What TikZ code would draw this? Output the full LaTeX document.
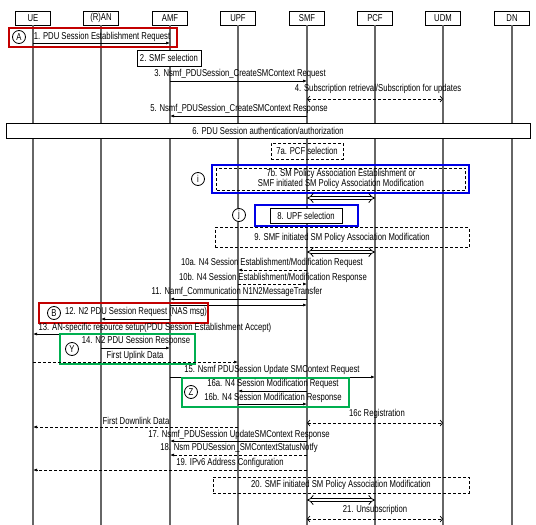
\documentclass[tikz,border=0pt]{standalone}
\usepackage{fontspec}
\setmainfont[FakeStretch=0.77]{Liberation Sans}
\usetikzlibrary{arrows.meta}
\definecolor{rbox}{RGB}{195,0,0}
\definecolor{bbox}{RGB}{0,0,230}
\definecolor{gbox}{RGB}{0,175,80}
\begin{document}
\begin{tikzpicture}[x=1pt,y=-1pt,
 every node/.style={font=\fontsize{10}{11}\selectfont, inner sep=0pt},
 head/.style={draw, minimum width=35pt, minimum height=14pt, fill=white, line width=0.8pt},
 life/.style={draw=black!60, line width=1.1pt},
 msg/.style={line width=0.7pt, -{Latex[length=4pt,width=3pt]}},
 dmsg/.style={msg, dash pattern=on 3pt off 2pt},
 biopen/.style={line width=0.7pt, dash pattern=on 3pt off 2pt, {Straight Barb[length=2.5pt,width=6pt]}-{Straight Barb[length=2.5pt,width=6pt]}},
 dbl/.style={double, double distance=2.6pt, line width=0.8pt, {Implies}-{Implies}},
 note/.style={draw, line width=0.7pt, fill=white},
 dnote/.style={draw, line width=0.7pt, dash pattern=on 3pt off 2pt},
 ring/.style={draw, circle, line width=0.8pt, minimum size=13pt, fill=white},
 hired/.style={draw=rbox, line width=2.5pt},
 hiblue/.style={draw=bbox, line width=2.5pt},
 higreen/.style={draw=gbox, line width=2.5pt}
]
\useasboundingbox (0,0) rectangle (536,525);
% headers
\node[head] (ue)  at (33,18)  {UE};
\node[head] (ran) at (101,18) {(R)AN};
\node[head] (amf) at (170,18) {AMF};
\node[head] (upf) at (238,18) {UPF};
\node[head] (smf) at (307,18) {SMF};
\node[head] (pcf) at (375,18) {PCF};
\node[head] (udm) at (443,18) {UDM};
\node[head] (dn)  at (512,18) {DN};
\foreach \n in {ue,ran,amf,upf,smf,pcf,udm,dn}{
  \coordinate (\n-end) at (\n |- 0,525);
  \draw[life] (\n.south) -- (\n-end);
}
% 1
\draw[hired] (9,28) rectangle (177,47);
\node[ring] (cA) at (19,37) {A};
\node (t1) at (102,36.5) {1. PDU Session Establishment Request};
\draw[msg] (ue |- 0,43) -- (amf |- 0,43);
% 2
\node[note, minimum width=64pt, minimum height=16pt] (s2) at (169,58) {2. SMF selection};
% 3
\node (t3) at (240,74) {3. Nsmf\_PDUSession\_CreateSMContext Request};
\draw[msg] (amf |- 0,81) -- (smf |- 0,81);
% 4
\node (t4) at (378,89) {4. Subscription retrieval/Subscription for updates};
\draw[biopen] (smf |- 0,99) -- (udm |- 0,99);
% 5
\node (t5) at (239,109) {5. Nsmf\_PDUSession\_CreateSMContext Response};
\draw[msg] (smf |- 0,116) -- (amf |- 0,116);
% 6
\node[note, minimum width=524pt, minimum height=15pt] (s6) at (268,130.5) {6. PDU Session authentication/authorization};
% 7a
\node[dnote, minimum width=72pt, minimum height=16pt] (s7a) at (307,151) {7a. PCF selection};
% 7b
\draw[hiblue] (212,165) rectangle (469,193);
\node[dnote, minimum width=249pt, minimum height=22pt, align=center, font=\fontsize{10}{10.5}\selectfont] (s7b) at (341,179)
  {7b. SM Policy Association Establishment or\\SMF initiated SM Policy Association Modification};
\node[ring] (ci) at (198,179) {i};
\draw[dbl] (smf |- 0,198) -- (pcf |- 0,198);
% 8
\draw[hiblue] (255,205) rectangle (358,226);
\node[note, minimum width=72pt, minimum height=15pt] (s8) at (306,215.5) {8. UPF selection};
\node[ring] (cj) at (239,215) {j};
% 9
\node[dnote, minimum width=254pt, minimum height=20pt] (s9) at (342,237.5) {9. SMF initiated SM Policy Association Modification};
\draw[dbl] (smf |- 0,252) -- (pcf |- 0,252);
% 10a/10b
\node (t10a) at (272,263) {10a. N4 Session Establishment/Modification Request};
\draw[dmsg] (smf |- 0,270) -- (upf |- 0,270);
\node (t10b) at (273,278) {10b. N4 Session Establishment/Modification Response};
\draw[dmsg] (upf |- 0,284) -- (smf |- 0,284);
% 11
\node (t11) at (237,292) {11. Namf\_Communication N1N2MessageTransfer};
\draw[msg] (smf |- 0,299) -- (amf |- 0,299);
\draw[msg] (amf |- 0,305) -- (smf |- 0,305);
% 12
\draw[hired] (39,303) rectangle (208,323);
\node[ring] (cB) at (54,313) {B};
\node (t12) at (136,311.5) {12. N2 PDU Session Request (NAS msg)};
\draw[msg] (amf |- 0,319) -- (ran |- 0,319);
% 13
\node (t13) at (155,328) {13. AN-specific resource setup(PDU Session Establishment Accept)};
\draw[msg] (ran |- 0,334) -- (ue |- 0,334);
% 14
\draw[higreen] (60,334) rectangle (195,364);
\node[ring] (cY) at (72,349) {Y};
\node (t14) at (136,341) {14. N2 PDU Session Response};
\draw[msg] (ran |- 0,348) -- (amf |- 0,348);
\node (tul) at (135,356) {First Uplink Data};
\draw[dmsg] (ue |- 0,362) -- (upf |- 0,362);
% 15
\node (t15) at (272,370) {15. Nsmf PDUSession Update SMContext Request};
\draw[msg] (amf |- 0,377) -- (pcf |- 0,377);
% 16
\draw[higreen] (182,378) rectangle (349,407);
\node[ring] (cZ) at (191,392) {Z};
\node (t16a) at (273,384) {16a. N4 Session Modification Request};
\draw[msg] (smf |- 0,391) -- (upf |- 0,391);
\node (t16b) at (273,398) {16b. N4 Session Modification Response};
\draw[msg] (upf |- 0,404) -- (smf |- 0,404);
\node (t16c) at (377,414) {16c Registration};
\draw[biopen] (smf |- 0,423) -- (udm |- 0,423);
% downlink
\node (tdl) at (136,421) {First Downlink Data};
\draw[dmsg] (upf |- 0,427) -- (ue |- 0,427);
% 17
\node (t17) at (239,435) {17. Nsmf\_PDUSession UpdateSMContext Response};
\draw[msg] (smf |- 0,441) -- (amf |- 0,441);
% 18
\node (t18) at (239,448) {18. Nsm PDUSession\_SMContextStatusNotfy};
\draw[dmsg] (smf |- 0,455) -- (amf |- 0,455);
% 19
\node (t19) at (230,463) {19. IPv6 Address Configuration};
\draw[dmsg] (smf |- 0,470) -- (ue |- 0,470);
% 20
\node[dnote, minimum width=256pt, minimum height=16pt] (s20) at (341,485) {20. SMF initiated SM Policy Association Modification};
\draw[dbl] (smf |- 0,500) -- (pcf |- 0,500);
% 21
\node (t21) at (375,510) {21. Unsubscription};
\draw[biopen] (smf |- 0,519) -- (udm |- 0,519);
\end{tikzpicture}
\end{document}
